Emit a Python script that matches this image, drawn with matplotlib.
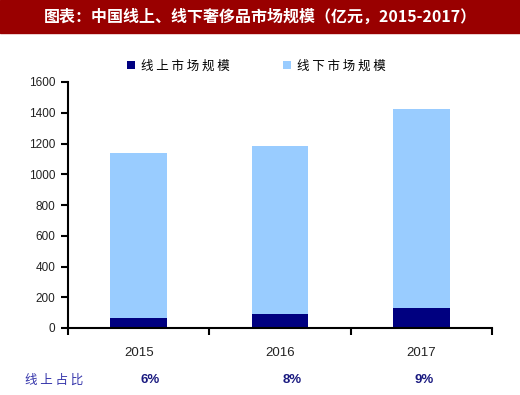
import matplotlib
matplotlib.use("Agg")
import matplotlib.pyplot as plt
import numpy as np

plt.rcParams['font.family'] = ['Liberation Sans', 'Noto Sans CJK SC', 'DejaVu Sans']

years = ['2015', '2016', '2017']
online = [68, 94, 131]
offline = [1072, 1092, 1295]
online_share = ['6%', '8%', '9%']
yticks = [0, 200, 400, 600, 800, 1000, 1200, 1400, 1600]
title = '图表：中国线上、线下奢侈品市场规模（亿元，2015-2017）'
legend_labels = ['线 上 市 场 规 模', '线 下 市 场 规 模']
share_label = '线 上 占 比'

navy = '#000080'
light = '#99CCFF'

fig = plt.figure(figsize=(5.2, 3.95), dpi=100)
# title bar
fig.patches.append(matplotlib.patches.Rectangle((0, 1 - 33/395), 1, 33/395,
                   transform=fig.transFigure, color='#990000', zorder=0))
fig.text(0.5, 1 - 16.5/395, title, color='white', fontsize=11.5, fontweight='bold',
         ha='center', va='center', family=['Noto Sans CJK SC', 'DejaVu Sans'])

ax = fig.add_axes([68/520, 1 - 328/395, (492-68)/520, (328-82)/395])
x = np.arange(len(years))
b1 = ax.bar(x, online, width=0.4, color=navy, label=legend_labels[0], zorder=2)
b2 = ax.bar(x, offline, width=0.4, bottom=online, color=light, label=legend_labels[1], zorder=2)

ax.set_xlim(-0.5, 2.5)
ax.set_ylim(0, 1600)
ax.set_yticks(yticks)
ax.set_yticklabels([str(v) for v in yticks], fontsize=8.5, color='#222222')
ax.set_xticks([-0.5, 0.5, 1.5, 2.5])
ax.set_xticklabels([])
ax.set_xticks(x, minor=True)
ax.set_xticklabels(years, minor=True, fontsize=9.5, color='#222222')
ax.tick_params(axis='x', which='minor', length=0, pad=14)
ax.tick_params(axis='x', which='major', direction='out', length=5, width=1.5, color='black')
ax.tick_params(axis='y', direction='out', length=5, width=1.5, color='black', pad=4)
for s in ['top', 'right']:
    ax.spines[s].set_visible(False)
for s in ['left', 'bottom']:
    ax.spines[s].set_linewidth(1.5)
    ax.spines[s].set_color('black')

leg = fig.legend(handles=[b1, b2], labels=legend_labels, loc='center',
                 bbox_to_anchor=(0.493, 1 - 66/395), ncol=2, frameon=False,
                 handlelength=0.65, handleheight=0.65, handletextpad=0.5,
                 columnspacing=4.2,
                 prop={'family': ['Noto Sans CJK SC', 'DejaVu Sans'], 'size': 9})

# share row
share_y = 1 - 380/395
fig.text(25/520, share_y, share_label, color='#3333AA', fontsize=9,
         ha='left', va='center', family=['Noto Sans CJK SC', 'DejaVu Sans'])
offsets = [0.08, 0.085, 0.02]
for i, s in enumerate(online_share):
    xd = ax.transData.transform((x[i] + offsets[i], 0))[0]
    xf = fig.transFigure.inverted().transform((xd, 0))[0]
    fig.text(xf, share_y, s, color='#1A1A80', fontsize=9.5, fontweight='bold',
             ha='center', va='center')

fig.savefig('out.png', dpi=100)
